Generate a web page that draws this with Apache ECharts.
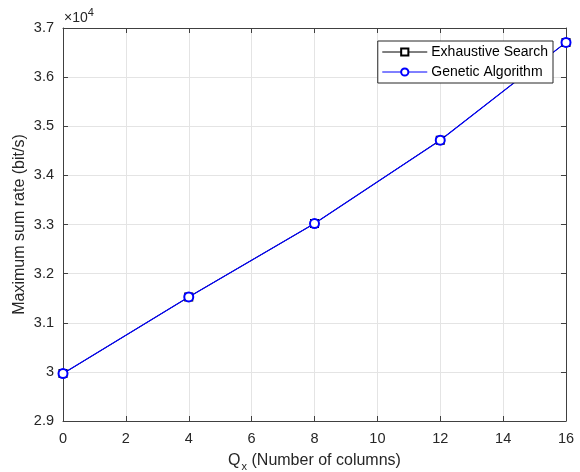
<!DOCTYPE html>
<html><head><meta charset="utf-8">
<script src="https://cdn.jsdelivr.net/npm/echarts@6/dist/echarts.min.js"></script>
<style>html,body{margin:0;padding:0;background:#fff}#c{width:580px;height:472px}</style>
</head><body><div id="c"></div>
<script>
const xValues = [0, 4, 8, 12, 16];
const exhaustive = [29965, 31525, 33020, 34717, 36707];
const genetic = [29965, 31525, 33020, 34717, 36707];
const xTicks = [0, 2, 4, 6, 8, 10, 12, 14, 16];
const yTicks = [29000, 30000, 31000, 32000, 33000, 34000, 35000, 36000, 37000];

const font = 'Liberation Sans, Arial, Helvetica, sans-serif';
const axisCol = '#404040';
const txtCol = '#262626';
const gridCol = '#e4e4e4';

const chart = echarts.init(document.getElementById('c'), null, {renderer: 'canvas'});
const pairs = a => xValues.map((x, i) => [x, a[i]]);
const xBase = {type: 'value', min: xTicks[0], max: xTicks[xTicks.length-1], interval: 2};
const yBase = {type: 'value', min: yTicks[0], max: yTicks[yTicks.length-1], interval: 1000};
chart.setOption({
  animation: false,
  textStyle: {fontFamily: font},
  grid: {left: 63, right: 14, top: 28, bottom: 51, containLabel: false, outerBoundsMode: 'none'},
  xAxis: [
    Object.assign({}, xBase, {
      position: 'bottom',
      axisLine: {show: true, onZero: false, lineStyle: {color: axisCol, width: 1}},
      axisTick: {show: true, inside: true, length: 5, lineStyle: {color: axisCol}},
      axisLabel: {color: txtCol, fontSize: 14.5, fontFamily: font, margin: 10},
      splitLine: {show: true, lineStyle: {color: gridCol, width: 1}},
      name: '{a|Q}{s|x}{a| (Number of columns)}',
      nameLocation: 'middle', nameGap: 28,
      nameTextStyle: {rich: {
        a: {fontSize: 16, color: txtCol, fontFamily: font},
        s: {fontSize: 11, color: txtCol, fontFamily: font, padding: [12, 0, 0, 1]}
      }}
    }),
    Object.assign({}, xBase, {
      position: 'top',
      axisLine: {show: true, onZero: false, lineStyle: {color: axisCol, width: 1}},
      axisTick: {show: true, inside: true, length: 5, lineStyle: {color: axisCol}},
      axisLabel: {show: false}, splitLine: {show: false}
    })
  ],
  yAxis: [
    Object.assign({}, yBase, {
      position: 'left',
      axisLine: {show: true, onZero: false, lineStyle: {color: axisCol, width: 1}},
      axisTick: {show: true, inside: true, length: 5, lineStyle: {color: axisCol}},
      axisLabel: {color: txtCol, fontSize: 14.5, fontFamily: font, margin: 9,
        formatter: v => String(Number((v / 10000).toFixed(1)))},
      splitLine: {show: true, lineStyle: {color: gridCol, width: 1}},
      name: 'Maximum sum rate (bit/s)', nameLocation: 'middle', nameGap: 35,
      nameMoveOverlap: false,
      nameTextStyle: {fontSize: 16, color: txtCol, fontFamily: font}
    }),
    Object.assign({}, yBase, {
      position: 'right',
      axisLine: {show: true, onZero: false, lineStyle: {color: axisCol, width: 1}},
      axisTick: {show: true, inside: true, length: 5, lineStyle: {color: axisCol}},
      axisLabel: {show: false}, splitLine: {show: false}
    })
  ],
  legend: {
    orient: 'vertical', right: 27, top: 41,
    backgroundColor: '#fff', borderColor: '#262626', borderWidth: 1,
    padding: [4, 5, 4, 4], itemGap: 6, itemWidth: 45, itemHeight: 9,
    textStyle: {fontSize: 14, color: '#000', fontFamily: font, padding: [0, 0, 0, -1]},
    lineStyle: {width: 1},
    data: [
      {name: 'Exhaustive Search', itemStyle: {borderWidth: 1}},
      {name: 'Genetic Algorithm', itemStyle: {borderWidth: 1}}
    ]
  },
  graphic: [{
    type: 'text', left: 64, top: 7,
    style: {text: '{a|×10}{s|4}', rich: {
      a: {fontSize: 14, fill: txtCol, fontFamily: font, padding: [7, 0, 0, 0]},
      s: {fontSize: 11, fill: txtCol, fontFamily: font, padding: [0, 0, 5, 0]}
    }}
  }],
  series: [
    {name: 'Exhaustive Search', type: 'line', data: pairs(exhaustive),
     symbol: 'emptyRect', symbolSize: 7, showAllSymbol: true,
     lineStyle: {color: '#000000', width: 1}, itemStyle: {color: '#000000', borderWidth: 1}},
    {name: 'Genetic Algorithm', type: 'line', data: pairs(genetic),
     symbol: 'emptyCircle', symbolSize: 9, showAllSymbol: true,
     lineStyle: {color: '#0000ff', width: 1.2}, itemStyle: {color: '#0000ff', borderWidth: 1.3}}
  ]
});
</script></body></html>
